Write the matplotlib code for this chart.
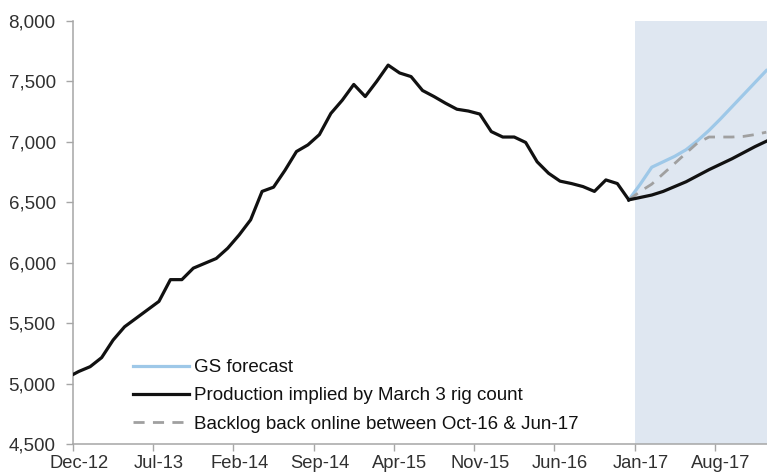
import matplotlib
matplotlib.use("Agg")
import matplotlib.pyplot as plt
from matplotlib.ticker import FuncFormatter, FixedLocator

# ---- data (monthly, index 0 = Dec-12; first value is Nov-12, clipped at axis) ----
hist_start = -1  # Nov-12
hist_values = [5050, 5100, 5140, 5215, 5360, 5470, 5540, 5610, 5680, 5860, 5860,
               5955, 5995, 6035, 6120, 6230, 6355, 6590, 6625, 6765, 6920,
               6975, 7060, 7235, 7345, 7475, 7375, 7500, 7635, 7570, 7540,
               7425, 7375, 7320, 7270, 7255, 7230, 7085, 7040, 7040, 6995,
               6835, 6740, 6675, 6655, 6630, 6590, 6685, 6655, 6520]

fc_start = 48  # Dec-16
gs_forecast = [6520, 6650, 6790, 6835, 6880, 6935, 7010, 7095, 7190, 7290, 7390, 7490, 7590]
rig_count = [6520, 6540, 6560, 6590, 6630, 6670, 6720, 6770, 6815, 6860, 6910, 6960, 7005]
backlog = [6520, 6590, 6650, 6736, 6821, 6907, 6992, 7040, 7040, 7040, 7045, 7060, 7080]

tick_labels = ["Dec-12", "Jul-13", "Feb-14", "Sep-14", "Apr-15", "Nov-15",
               "Jun-16", "Jan-17", "Aug-17"]
tick_months = [0, 7, 14, 21, 28, 35, 42, 49, 56]
forecast_from = 49  # Jan-17

labels = ["GS forecast", "Production implied by March 3 rig count",
          "Backlog back online between Oct-16 & Jun-17"]

plt.rcParams['font.family'] = ['Liberation Sans', 'DejaVu Sans']

fig = plt.figure(figsize=(7.67, 4.75), dpi=100)
ax = fig.add_axes([73/767, 1 - 444/475, 1 - 73/767, (444 - 21)/475])

xmax = (767 - 73) / 11.46
ax.axvspan(forecast_from, xmax + 1, color="#dfe7f1", zorder=0, lw=0)

hx = [hist_start + i + 0.5 for i in range(len(hist_values))]
fx = [fc_start + i + 0.5 for i in range(len(gs_forecast))]

l1, = ax.plot(fx, gs_forecast, color="#9ec8e8", lw=2.3, zorder=3)
ax.plot(hx, hist_values, color="#111111", lw=2.3, zorder=4)
l2, = ax.plot(fx, rig_count, color="#111111", lw=2.3, zorder=4)
l3, = ax.plot(fx, backlog, color="#a0a0a0", lw=2.0, dashes=(4, 3), zorder=3)

ax.set_xlim(0, xmax)
ax.set_ylim(4500, 8000)

ax.yaxis.set_major_locator(FixedLocator(list(range(4500, 8001, 500))))
ax.yaxis.set_major_formatter(FuncFormatter(lambda v, p: f"{int(v):,}"))

ax.set_xticks(tick_months)
ax.set_xticklabels([])
ax.set_xticks([m + 0.5 for m in tick_months], minor=True)
ax.set_xticklabels(tick_labels, minor=True)
ax.tick_params(axis='both', which='both', labelsize=13.5, labelcolor="#303030")
ax.tick_params(axis='x', which='minor', length=0, pad=8, labelsize=13.2)
ax.tick_params(axis='x', which='major', length=5, width=1, color="#a6a6a6", direction='out')
ax.tick_params(axis='y', length=5, width=1, color="#a6a6a6", direction='out', pad=7.5)

for s in ['top', 'right']:
    ax.spines[s].set_visible(False)
for s in ['left', 'bottom']:
    ax.spines[s].set_color("#a6a6a6")
    ax.spines[s].set_linewidth(1.1)
ax.spines['bottom'].set_zorder(5)

leg = fig.legend([l1, l2, l3], labels, loc='upper left',
                 bbox_to_anchor=(133/767, 1 - 359/475), frameon=False,
                 fontsize=13.5, handlelength=3.0, handletextpad=0.25,
                 borderpad=0, borderaxespad=0, labelspacing=0.6, labelcolor="#111111")

fig.savefig("out.png", dpi=100)
